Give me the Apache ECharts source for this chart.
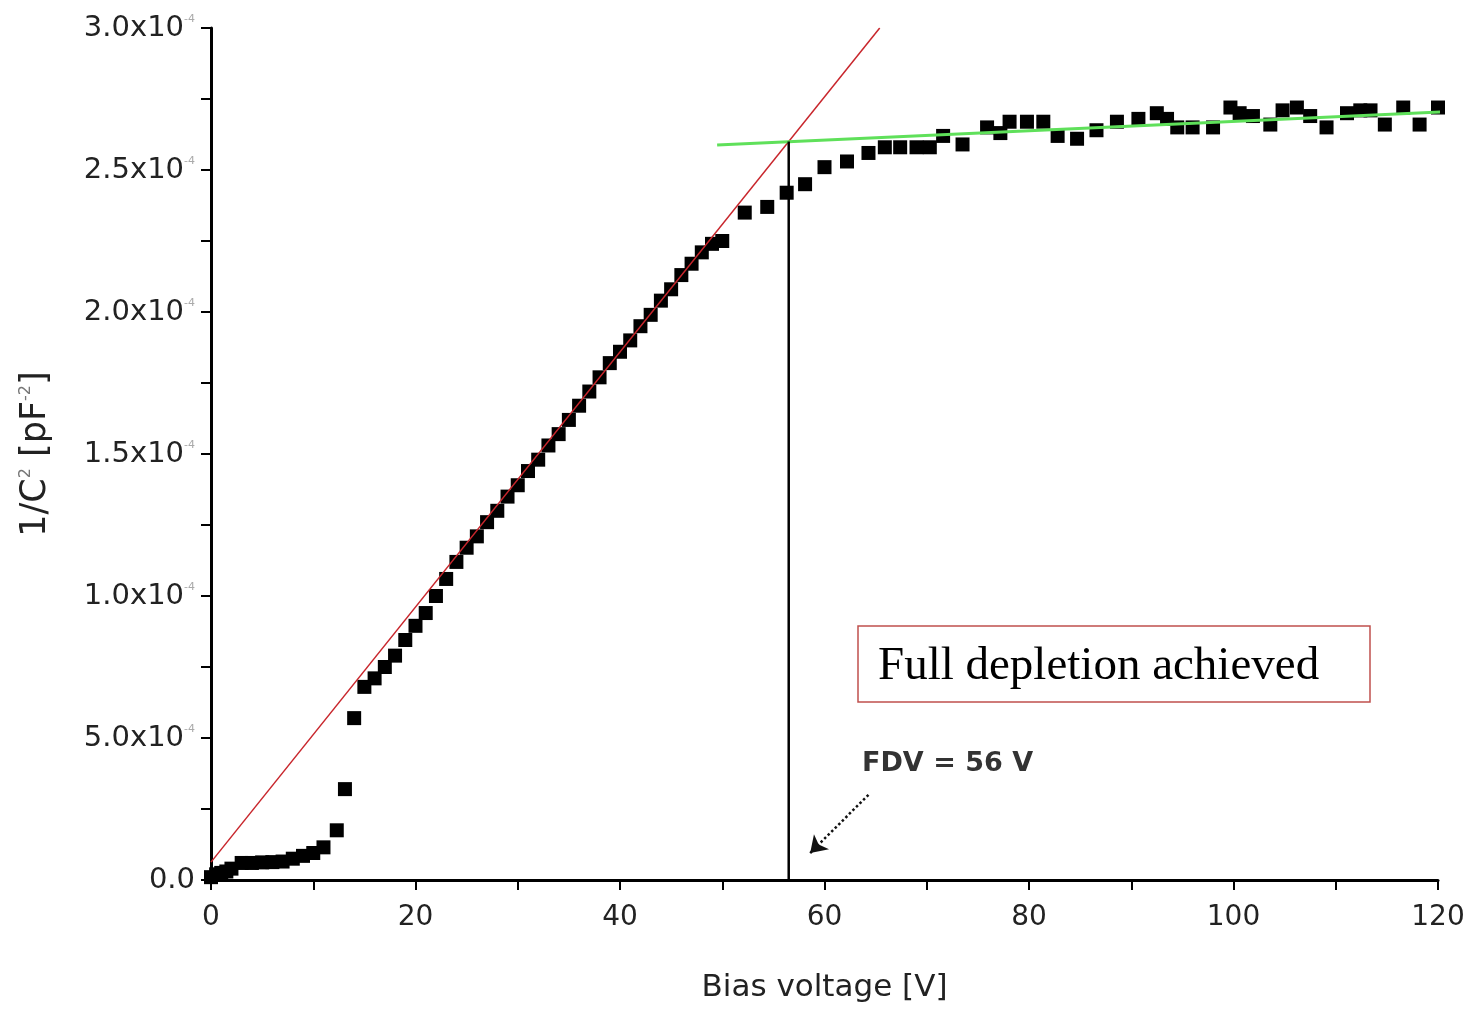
<!DOCTYPE html>
<html>
<head>
<meta charset="utf-8">
<script src="https://cdn.jsdelivr.net/npm/echarts@6/dist/echarts.min.js"></script>
<style>
  html, body { margin: 0; padding: 0; background: #fff; }
  #main { width: 1475px; height: 1012px; }
</style>
</head>
<body>
<div id="main"></div>
<script>
// measured 1/C^2 values, in units of 1e-4 pF^-2
var biasV = [0, 0.5, 1, 1.5, 2, 3, 4, 5, 6, 7, 8, 9, 10, 11, 12.3, 13.1, 14.0, 15,
  16, 17, 18, 19, 20, 21, 22, 23, 24, 25, 26, 27, 28, 29, 30, 31, 32, 33, 34, 35,
  36, 37, 38, 39, 40, 41, 42, 43, 44, 45, 46, 47, 48, 49, 50,
  52.2, 54.4, 56.3, 58.1, 60.0, 62.2, 64.3, 65.9, 67.4, 69.0, 70.3, 71.6, 73.5,
  75.9, 77.2, 78.1, 79.8, 81.4, 82.8, 84.7, 86.6, 88.6, 90.7, 92.5, 93.5, 94.5,
  96.0, 98.0, 99.7, 100.6, 101.9, 103.6, 104.8, 106.2, 107.5, 109.1, 111.1, 112.4,
  113.4, 114.8, 116.6, 118.2, 120.0];
var invC2 = [0.01, 0.02, 0.025, 0.03, 0.04, 0.06, 0.06, 0.062, 0.063, 0.065, 0.075, 0.085, 0.095, 0.115, 0.175, 0.32, 0.57, 0.68,
  0.71, 0.75, 0.79, 0.845, 0.895, 0.94, 1.0, 1.06, 1.12, 1.17, 1.21, 1.26, 1.30, 1.35, 1.39, 1.44, 1.48, 1.53, 1.57, 1.62,
  1.67, 1.72, 1.77, 1.82, 1.86, 1.90, 1.95, 1.99, 2.04, 2.08, 2.13, 2.17, 2.21, 2.24, 2.25,
  2.35, 2.37, 2.42, 2.45, 2.51, 2.53, 2.56, 2.58, 2.58, 2.58, 2.58, 2.62, 2.59,
  2.65, 2.63, 2.67, 2.67, 2.67, 2.62, 2.61, 2.64, 2.67, 2.68, 2.70, 2.68, 2.65,
  2.65, 2.65, 2.72, 2.70, 2.69, 2.66, 2.71, 2.72, 2.69, 2.65, 2.70, 2.71,
  2.71, 2.66, 2.72, 2.66, 2.72];

// linear fit of the rising part and fit of the plateau
var riseFitX = [0, 65.4];
var riseFitY = [0.063, 3.0];
var plateauFitX = [49.5, 120.2];
var plateauFitY = [2.588, 2.704];
var fdv = 56.5;
var fdvY = 2.6;

var yTicks = ['0.0', '5.0x10', '1.0x10', '1.5x10', '2.0x10', '2.5x10', '3.0x10'];

var chart = echarts.init(document.getElementById('main'));

function pairs(xs, ys) {
  return xs.map(function (x, i) { return [x, ys[i]]; });
}

var option = {
  backgroundColor: '#fff',
  animation: false,
  grid: { left: 211, right: 37, top: 28, bottom: 132 },
  xAxis: {
    type: 'value',
    min: 0, max: 120, interval: 20,
    name: 'Bias voltage [V]',
    nameLocation: 'middle',
    nameGap: 92,
    nameTextStyle: { fontFamily: 'DejaVu Sans', fontSize: 31, color: '#222' },
    axisLine: { lineStyle: { color: '#000', width: 3 } },
    axisTick: { length: 10, lineStyle: { color: '#000', width: 2 } },
    minorTick: { show: true, splitNumber: 2, length: 10, lineStyle: { color: '#000', width: 2 } },
    axisLabel: { fontFamily: 'DejaVu Sans', fontSize: 28, color: '#222', margin: 24 },
    splitLine: { show: false }
  },
  yAxis: {
    type: 'value',
    min: 0, max: 3.0, interval: 0.5,
    name: '1/C{sup|2} [pF{sup|-2}]',
    nameLocation: 'middle',
    nameGap: 158,
    nameTextStyle: {
      fontFamily: 'DejaVu Sans', fontSize: 35, color: '#222',
      rich: { sup: { fontFamily: 'DejaVu Sans', fontSize: 16, verticalAlign: 'top', color: '#777', padding: [0, 0, 16, 0] } }
    },
    axisLine: { show: true, lineStyle: { color: '#000', width: 3 } },
    axisTick: { length: 10, lineStyle: { color: '#000', width: 2 } },
    minorTick: { show: true, splitNumber: 2, length: 10, lineStyle: { color: '#000', width: 2 } },
    axisLabel: {
      margin: 16,
      formatter: function (v) {
        var i = Math.round(v / 0.5);
        return i === 0 ? '{b|0.0}' : '{b|' + yTicks[i] + '}{s|-4}';
      },
      rich: {
        b: { fontFamily: 'DejaVu Sans', fontSize: 29, color: '#222' },
        s: { fontFamily: 'DejaVu Sans', fontSize: 11, color: '#aaa', verticalAlign: 'top', padding: [0, 0, 18, 0] }
      }
    },
    splitLine: { show: false }
  },
  series: [
    {
      type: 'line',
      data: pairs(riseFitX, riseFitY),
      symbol: 'none',
      lineStyle: { color: '#c8262c', width: 1.5 },
      z: 3
    },
    {
      type: 'line',
      data: pairs(plateauFitX, plateauFitY),
      symbol: 'none',
      lineStyle: { color: '#5fe05a', width: 3 },
      z: 3
    },
    {
      type: 'line',
      data: [[fdv, 0], [fdv, fdvY]],
      symbol: 'none',
      lineStyle: { color: '#000', width: 2.5 },
      z: 3,
      markLine: {
        silent: true,
        symbol: ['none', 'arrow'],
        symbolSize: 16,
        label: { show: false },
        lineStyle: { color: '#111', width: 2.5, type: 'dotted' },
        data: [[{ coord: [64.3, 0.3] }, { coord: [58.6, 0.095] }]]
      }
    },
    {
      type: 'scatter',
      data: pairs(biasV, invC2),
      symbol: 'rect',
      symbolSize: 14,
      itemStyle: { color: '#000', opacity: 1 },
      z: 2
    }
  ],
  graphic: [
    {
      type: 'rect',
      shape: { x: 858, y: 626, width: 512, height: 76 },
      style: { fill: '#fff', stroke: '#c0504d', lineWidth: 1.5 }
    },
    {
      type: 'text',
      left: 878, top: 643,
      style: { text: 'Full depletion achieved', font: '47px "Liberation Serif"', fill: '#000' }
    },
    {
      type: 'text',
      left: 862, top: 750,
      style: { text: 'FDV = 56 V', font: 'bold 27px "DejaVu Sans"', fill: '#333' }
    }
  ]
};

chart.setOption(option);
window.addEventListener('resize', chart.resize);
</script>
</body>
</html>
